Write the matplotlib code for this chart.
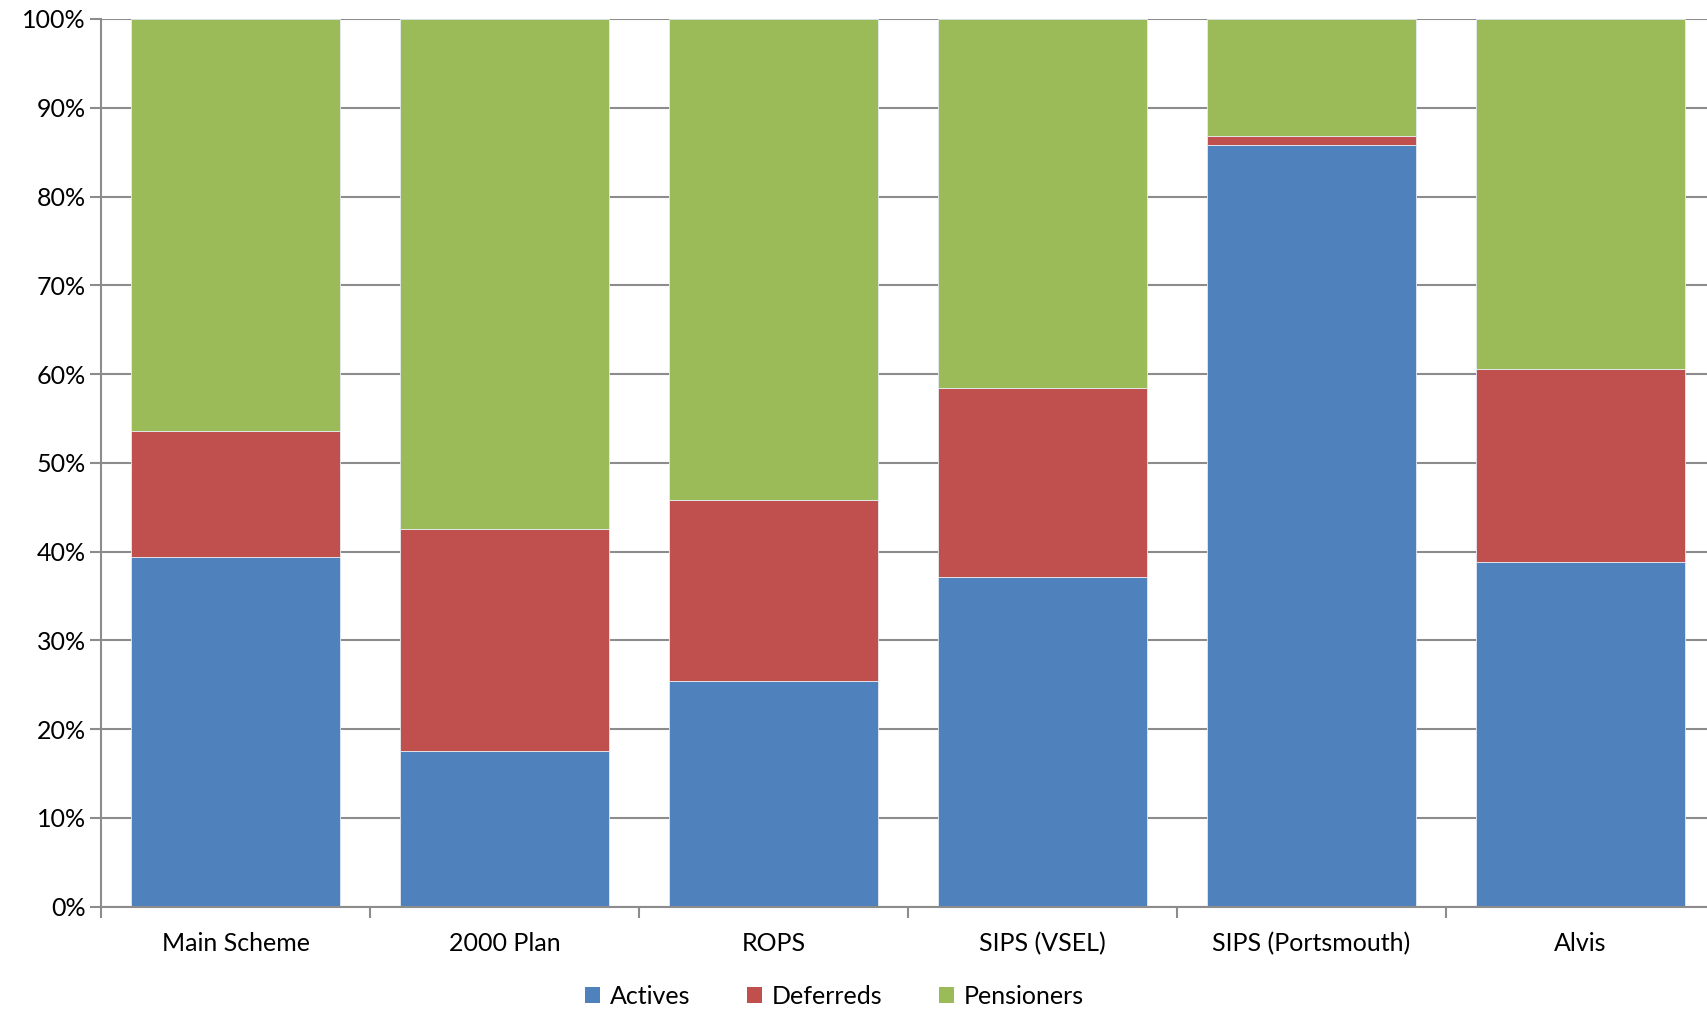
import numpy as np
import matplotlib

matplotlib.use("Agg")
import matplotlib.pyplot as plt  # noqa: E402
from matplotlib.patches import Patch  # noqa: E402
from matplotlib.ticker import FixedLocator, PercentFormatter  # noqa: E402

plt.rcParams["font.family"] = ["Lato", "DejaVu Sans"]

schemes = ["Main Scheme", "2000 Plan", "ROPS", "SIPS (VSEL)", "SIPS (Portsmouth)", "Alvis"]
actives = [39.4, 17.5, 25.4, 37.1, 85.8, 38.8]
deferreds = [14.2, 25.0, 20.4, 21.3, 1.0, 21.8]
pensioners = [100 - a - d for a, d in zip(actives, deferreds)]

series = [
    ("Actives", actives, "#4F81BD"),
    ("Deferreds", deferreds, "#C0504D"),
    ("Pensioners", pensioners, "#9BBB59"),
]

grey = "#8C8C8C"

fig = plt.figure(figsize=(17.07, 10.09), dpi=100)
ax = fig.add_axes([0.0592, 0.1014, 0.9455, 0.8798])

x = np.arange(len(schemes))
bottom = np.zeros(len(schemes))
for name, vals, color in series:
    ax.bar(x, vals, width=0.775, bottom=bottom, color=color,
           edgecolor="#E6ECF2", linewidth=0.6, zorder=3, label=name)
    bottom += np.array(vals)

ax.set_xlim(-0.5, len(schemes) - 0.5)
ax.set_ylim(0, 100)
ax.set_yticks(np.arange(0, 101, 10))
ax.yaxis.set_major_formatter(PercentFormatter(decimals=0))
ax.grid(axis="y", color=grey, linewidth=1.5, zorder=0)

# category labels centred, tick marks on the boundaries
ax.set_xticks(x)
ax.set_xticklabels(schemes)
ax.xaxis.set_minor_locator(FixedLocator(np.arange(-0.5, len(schemes), 1.0)))
ax.tick_params(axis="x", which="major", length=0, pad=18, labelsize=18)
ax.tick_params(axis="x", which="minor", length=8, width=1.5, color=grey)
ax.tick_params(axis="y", length=8, width=1.5, color=grey, labelsize=18, pad=3)

for side in ("top", "right"):
    ax.spines[side].set_visible(False)
for side in ("left", "bottom"):
    ax.spines[side].set_color(grey)
    ax.spines[side].set_linewidth(1.5)
    ax.spines[side].set_zorder(4)

handles = [Patch(facecolor=c, label=n) for n, _, c in series]
fig.legend(handles=handles, loc="center", bbox_to_anchor=(0.489, 0.0125), ncol=3,
           frameon=False, fontsize=18, handlelength=0.6, handleheight=0.6,
           handletextpad=0.4, columnspacing=2.25)

fig.savefig("out.png", dpi=100)
